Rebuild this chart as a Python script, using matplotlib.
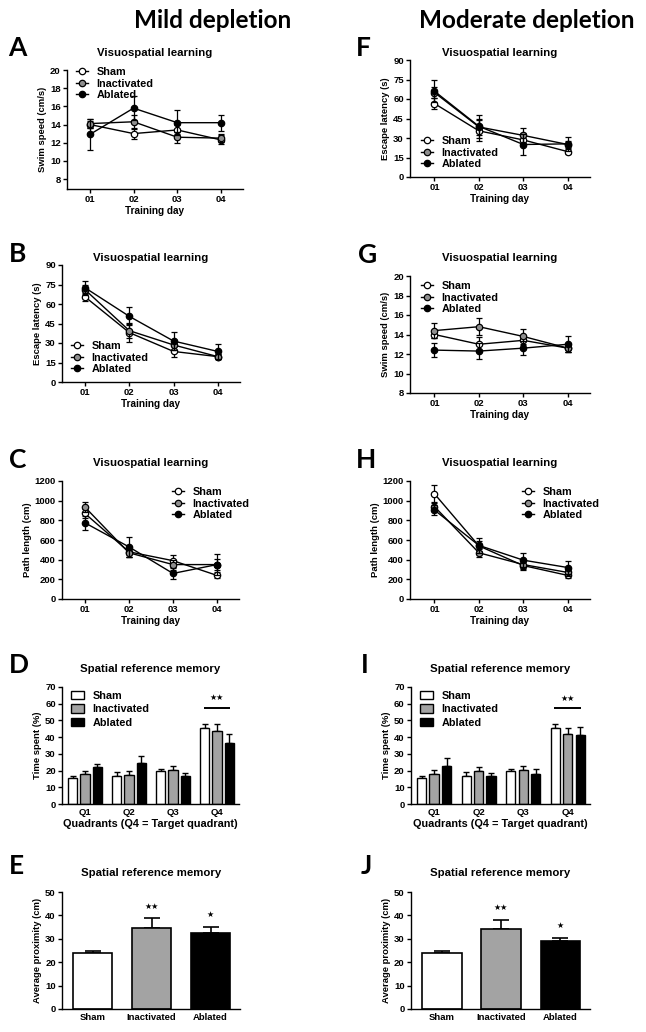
import matplotlib
matplotlib.use('Agg')
import matplotlib.pyplot as plt
import numpy as np
from matplotlib.lines import Line2D
from matplotlib.patches import Patch

W, H = 646, 1032

days = ['01', '02', '03', '04']
groups = ['Sham', 'Inactivated', 'Ablated']
quadrants = ['Q1', 'Q2', 'Q3', 'Q4']

# A - swim speed, mild depletion
a_mean = [[14.0, 13.0, 13.4, 12.3],
          [14.1, 14.3, 12.6, 12.5],
          [12.9, 15.8, 14.2, 14.2]]
a_err = [[0.4, 0.6, 0.5, 0.5],
         [0.5, 0.8, 0.6, 0.4],
         [1.7, 1.3, 1.4, 0.9]]

# B - escape latency, mild depletion
b_mean = [[65.5, 38.0, 23.5, 19.5],
          [71.0, 39.5, 28.5, 19.5],
          [72.5, 50.5, 31.5, 23.5]]
b_err = [[3.0, 7.0, 4.5, 2.0],
         [4.0, 6.0, 4.0, 2.0],
         [5.0, 7.0, 7.0, 5.5]]

# C - path length, mild depletion
c_mean = [[870, 480, 390, 240],
          [935, 470, 350, 350],
          [775, 530, 260, 350]]
c_err = [[50, 50, 60, 30],
         [50, 40, 50, 60],
         [70, 100, 60, 110]]

# D - time in quadrant, mild depletion
d_mean = [[15.5, 17.0, 19.5, 45.5],
          [18.0, 17.5, 20.5, 43.5],
          [22.0, 24.5, 17.0, 36.5]]
d_err = [[1.5, 2.0, 1.5, 2.5],
         [1.5, 2.5, 2.0, 4.5],
         [2.0, 4.5, 1.5, 5.5]]

# E - average proximity, mild depletion
e_mean = [24.0, 34.5, 32.5]
e_err = [1.0, 4.5, 2.5]
e_stars = ['★★', '★★', '★']

# F - escape latency, moderate depletion
f_mean = [[56.5, 35.5, 28.5, 19.5],
          [65.0, 38.5, 32.0, 25.0],
          [66.0, 39.0, 25.0, 25.5]]
f_err = [[4.0, 8.0, 5.0, 2.0],
         [4.0, 6.0, 6.0, 3.0],
         [8.5, 9.0, 8.0, 5.5]]

# G - swim speed, moderate depletion
g_mean = [[14.0, 13.0, 13.4, 12.6],
          [14.4, 14.8, 13.8, 12.6],
          [12.4, 12.3, 12.6, 13.0]]
g_err = [[0.4, 0.7, 0.5, 0.4],
         [0.8, 0.9, 0.8, 0.4],
         [0.7, 0.8, 0.7, 0.8]]

# H - path length, moderate depletion
h_mean = [[1070, 540, 340, 240],
          [940, 470, 350, 270],
          [905, 545, 395, 320]]
h_err = [[90, 50, 40, 30],
         [50, 40, 40, 40],
         [50, 80, 70, 70]]

# I - time in quadrant, moderate depletion
i_mean = [[15.5, 17.0, 19.5, 45.5],
          [18.0, 19.5, 20.5, 42.0],
          [23.0, 17.0, 18.0, 41.5]]
i_err = [[1.5, 2.0, 1.5, 2.5],
         [2.5, 2.5, 2.5, 3.5],
         [4.5, 1.5, 3.0, 4.5]]

# J - average proximity, moderate depletion
j_mean = [24.0, 34.0, 29.0]
j_err = [1.0, 4.0, 1.5]

marker_faces = ['white', '#8f8f8f', 'black']
bar_faces = ['white', '#a3a3a3', 'black']

TXT = 'Liberation Sans'
HEAD = 'Lato'

fig = plt.figure(figsize=(W / 100, H / 100), dpi=100)


def add_axes(box):
    l, t, r, b = box
    ax = fig.add_axes([l / W, 1 - b / H, (r - l) / W, (b - t) / H])
    for s in ['top', 'right']:
        ax.spines[s].set_visible(False)
    for s in ['left', 'bottom']:
        ax.spines[s].set_linewidth(1.0)
    ax.tick_params(direction='out', length=3, width=1.0, pad=1.5,
                   labelsize=6.8)
    return ax


def px_to_ax(box, x, y):
    l, t, r, b = box
    return (x - l) / (r - l), (b - y) / (b - t)


def decorate(ax, box, letter, letter_px, title, title_y, ylabel, xlabel):
    l, t, r, b = box
    fig.text(letter_px[0] / W, 1 - letter_px[1] / H, letter, fontfamily=HEAD,
             fontweight='bold', fontsize=19, ha='left', va='center')
    fig.text((l + r) / 2 / W, 1 - title_y / H, title, fontfamily=TXT,
             fontweight='bold', fontsize=8.2, ha='center', va='center')
    ax.set_ylabel(ylabel, fontfamily=TXT, fontweight='bold', fontsize=6.8,
                  labelpad=2)
    if xlabel:
        ax.set_xlabel(xlabel, fontfamily=TXT, fontweight='bold',
                      fontsize=7.2, labelpad=1)
    for lab in ax.get_xticklabels() + ax.get_yticklabels():
        lab.set_fontfamily(TXT)
        lab.set_fontweight('bold')


def line_panel(box, means, errs, ylim, yticks, ylabel, letter, letter_px,
               title_y, leg_px, xlim=(0.48, 4.5)):
    ax = add_axes(box)
    x = np.arange(1, len(days) + 1)
    for k in range(len(groups)):
        ax.errorbar(x, means[k], yerr=errs[k], color='black', lw=1.0,
                    marker='o', ms=4.6, mfc=marker_faces[k], mec='black',
                    mew=0.9, capsize=2, elinewidth=0.9, capthick=0.9,
                    zorder=3 + k)
    ax.set_xlim(*xlim)
    ax.set_ylim(*ylim)
    ax.set_xticks(x)
    ax.set_xticklabels(days)
    ax.set_yticks(yticks)
    handles = [Line2D([], [], color='black', lw=1.0, marker='o', ms=4.6,
                      mfc=marker_faces[k], mec='black', mew=0.9)
               for k in range(len(groups))]
    fx, fy = px_to_ax(box, *leg_px)
    ax.legend(handles, groups, loc='upper left', bbox_to_anchor=(fx, fy),
              frameon=False, borderpad=0, borderaxespad=0, handlelength=1.1,
              handletextpad=0.8, labelspacing=0.15,
              prop={'family': TXT, 'weight': 'bold', 'size': 7.8})
    decorate(ax, box, letter, letter_px, 'Visuospatial learning', title_y,
             ylabel, 'Training day')
    return ax


def quadrant_panel(box, means, errs, letter, letter_px, title_y, leg_px,
                   sig_y=57.5, star_y=63.5):
    ax = add_axes(box)
    x = np.arange(1, len(quadrants) + 1)
    offs = [-0.28, 0.0, 0.28]
    for k in range(len(groups)):
        ax.bar(x + offs[k], means[k], width=0.21, color=bar_faces[k],
               edgecolor='black', lw=1.0, zorder=2)
        ax.errorbar(x + offs[k], means[k],
                    yerr=[np.zeros(len(x)), errs[k]], fmt='none',
                    ecolor='black', elinewidth=1.0, capsize=2.2,
                    capthick=1.0, zorder=1)
    ax.set_xlim(0.48, 4.5)
    ax.set_ylim(0, 70)
    ax.set_yticks(np.arange(0, 71, 10))
    ax.set_xticks(x)
    ax.set_xticklabels(quadrants)
    ax.tick_params(axis='x', length=0, pad=3)
    ax.plot([x[-1] - 0.3, x[-1] + 0.3], [sig_y, sig_y], color='black',
            lw=1.4, solid_capstyle='butt')
    ax.text(x[-1], star_y, '★★', ha='center', va='center', fontsize=5.8,
            fontfamily='DejaVu Sans')
    handles = [Patch(facecolor=bar_faces[k], edgecolor='black', lw=1.0)
               for k in range(len(groups))]
    fx, fy = px_to_ax(box, *leg_px)
    ax.legend(handles, groups, loc='upper left', bbox_to_anchor=(fx, fy),
              frameon=False, borderpad=0, borderaxespad=0, handlelength=1.2,
              handleheight=0.8, handletextpad=0.8, labelspacing=0.3,
              prop={'family': TXT, 'weight': 'bold', 'size': 7.8})
    decorate(ax, box, letter, letter_px, 'Spatial reference memory', title_y,
             'Time spent (%)', 'Quadrants (Q4 = Target quadrant)')
    ax.xaxis.label.set_fontsize(7.8)
    return ax


def proximity_panel(box, means, errs, star_vals, letter, letter_px, title_y):
    ax = add_axes(box)
    x = np.arange(1, len(groups) + 1)
    ax.bar(x, means, width=0.67, color=bar_faces, edgecolor='black', lw=1.2,
           zorder=2)
    ax.errorbar(x, means, yerr=[np.zeros(len(x)), errs], fmt='none',
                ecolor='black', elinewidth=1.2, capsize=6, capthick=1.2,
                zorder=1)
    ax.set_xlim(0.48, 3.5)
    ax.set_ylim(0, 50)
    ax.set_yticks(np.arange(0, 51, 10))
    ax.set_xticks(x)
    ax.set_xticklabels(groups)
    ax.tick_params(axis='x', length=0, pad=3)
    for k, sv in enumerate(star_vals):
        if sv is None:
            continue
        ax.text(x[k], sv, e_stars[k], ha='center', va='center',
                fontsize=5.8, fontfamily='DejaVu Sans')
    decorate(ax, box, letter, letter_px, 'Spatial reference memory', title_y,
             'Average proximity (cm)', None)
    return ax


# column headers
fig.text(213 / W, 1 - 20 / H, 'Mild depletion', fontfamily=HEAD,
         fontweight='bold', fontsize=17.5, ha='center', va='center')
fig.text(527 / W, 1 - 20 / H, 'Moderate depletion', fontfamily=HEAD,
         fontweight='bold', fontsize=17.5, ha='center', va='center')

# left column (mild depletion)
line_panel((67, 70, 243, 189), a_mean, a_err, (6.9, 20), np.arange(8, 21, 2),
           'Swim speed (cm/s)', 'A', (8, 48), 53, (76, 67))
line_panel((62, 265, 240, 382), b_mean, b_err, (0, 90), np.arange(0, 91, 15),
           'Escape latency (s)', 'B', (9, 254), 258, (71, 341))
line_panel((62, 481, 239, 599), c_mean, c_err, (0, 1200),
           np.arange(0, 1201, 200), 'Path length (cm)', 'C', (9, 460), 463,
           (172, 487))
quadrant_panel((62, 687, 239, 804), d_mean, d_err, 'D', (9, 665), 669,
               (71, 691))
proximity_panel((62, 892, 240, 1009), e_mean, e_err, [None, 44.0, 40.3],
                'E', (9, 866), 873)

# right column (moderate depletion)
line_panel((410, 60, 590, 177), f_mean, f_err, (0, 90), np.arange(0, 91, 15),
           'Escape latency (s)', 'F', (356, 48), 53, (421, 136),
           xlim=(0.45, 4.5))
line_panel((410, 276, 590, 393), g_mean, g_err, (8, 20), np.arange(8, 21, 2),
           'Swim speed (cm/s)', 'G', (358, 255), 258, (421, 281),
           xlim=(0.45, 4.5))
line_panel((410, 481, 590, 599), h_mean, h_err, (0, 1200),
           np.arange(0, 1201, 200), 'Path length (cm)', 'H', (356, 460), 463,
           (522, 487), xlim=(0.45, 4.5))
quadrant_panel((411, 687, 590, 804), i_mean, i_err, 'I', (361, 665), 669,
               (420, 691), sig_y=57.2, star_y=63.4)
proximity_panel((411, 892, 590, 1009), j_mean, j_err, [None, 43.2, 35.5],
                'J', (361, 866), 873)

fig.savefig('out.png', dpi=100)
